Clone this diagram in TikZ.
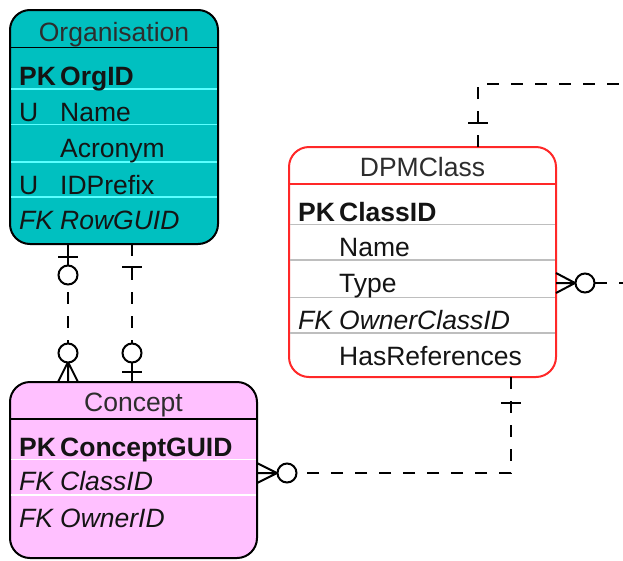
\documentclass[tikz,border=0pt]{standalone}
\usepackage{fontspec}
\setmainfont{Liberation Sans}
\definecolor{orgfill}{RGB}{0,192,192}
\definecolor{orgsep}{RGB}{90,255,255}
\definecolor{conceptfill}{RGB}{255,192,255}
\definecolor{classedge}{RGB}{255,40,40}
\definecolor{classsep}{RGB}{190,190,190}
\definecolor{ink}{RGB}{20,20,20}
\definecolor{titleink}{RGB}{45,45,45}
\begin{document}
\begin{tikzpicture}[x=1pt,y=-1pt,
  entity/.style={rectangle, rounded corners=20pt, line width=2pt, inner sep=0pt, outer sep=0pt, anchor=north west},
  title/.style={font=\fontsize{26.5}{30}\selectfont, text=titleink, anchor=base, inner sep=0pt},
  attr/.style={font=\fontsize{26.5}{30}\selectfont, text=ink, anchor=base west, inner sep=0pt},
  keyattr/.style={attr, font=\fontsize{26.5}{30}\selectfont\bfseries},
  fkattr/.style={attr, font=\fontsize{26.5}{30}\selectfont\itshape},
  divider/.style={line width=1.5pt, shorten <=1pt, shorten >=1pt},
  rel/.style={line width=2pt, dash pattern=on 12pt off 12pt},
  notation/.style={line width=2pt},
  ring/.style={notation, fill=white}
]
\path[use as bounding box, fill=white] (0,0) rectangle (623,560);

% ---------- Organisation ----------
\node[entity, draw=black, fill=orgfill, minimum width=208pt, minimum height=234pt] (org) at (10,10) {};
\draw[divider, black] (org.west |- 0,47.5) -- (org.east |- 0,47.5);
\foreach \y in {89,124.5,162,197}
  \draw[divider, orgsep] (org.west |- 0,\y) -- (org.east |- 0,\y);
\node[title] (org-title) at (114,41) {Organisation};
\node[keyattr] (org-pk) at (19,85.5) {PK};
\node[keyattr] (org-id) at (60,85.5) {OrgID};
\node[attr] (org-u1) at (19,121.5) {U};
\node[attr] (org-name) at (60,121.5) {Name};
\node[attr] (org-acr) at (60,157.5) {Acronym};
\node[attr] (org-u2) at (19,194) {U};
\node[attr] (org-prefix) at (60,194) {IDPrefix};
\node[fkattr] (org-fk) at (19,229.5) {FK};
\node[fkattr] (org-guid) at (60,229.5) {RowGUID};

% ---------- Concept ----------
\node[entity, draw=black, fill=conceptfill, minimum width=247pt, minimum height=176pt] (concept) at (10,382) {};
\draw[divider, black] (concept.west |- 0,419) -- (concept.east |- 0,419);
\foreach \y in {459.5,495}
  \draw[divider, white] (concept.west |- 0,\y) -- (concept.east |- 0,\y);
\node[title] (concept-title) at (133.5,411.5) {Concept};
\node[keyattr] (concept-pk) at (19,456) {PK};
\node[keyattr] (concept-guid) at (60,456) {ConceptGUID};
\node[fkattr] (concept-fk1) at (19,490) {FK};
\node[fkattr] (concept-class) at (60,490) {ClassID};
\node[fkattr] (concept-fk2) at (19,527) {FK};
\node[fkattr] (concept-owner) at (60,527) {OwnerID};

% ---------- DPMClass ----------
\node[entity, draw=classedge, fill=white, minimum width=267pt, minimum height=230pt] (dpm) at (289,147) {};
\draw[divider, classedge] (dpm.west |- 0,184) -- (dpm.east |- 0,184);
\foreach \y in {224.5,260,297.5,333}
  \draw[divider, classsep] (dpm.west |- 0,\y) -- (dpm.east |- 0,\y);
\node[title] (dpm-title) at (422.5,176.5) {DPMClass};
\node[keyattr] (dpm-pk) at (298,221.5) {PK};
\node[keyattr] (dpm-id) at (339,221.5) {ClassID};
\node[attr] (dpm-name) at (339,256.5) {Name};
\node[attr] (dpm-type) at (339,292.5) {Type};
\node[fkattr] (dpm-fk) at (298,329.5) {FK};
\node[fkattr] (dpm-owner) at (339,329.5) {OwnerClassID};
\node[attr] (dpm-refs) at (339,365.5) {HasReferences};

% ---------- Organisation (0..1) to Concept (0..n) ----------
\draw[rel] (org.south -| 68,0) -- (concept.north -| 68,0);
\draw[notation] (org.south -| 68,0) -- (68,266);
\draw[notation] (58,257) -- (78,257);
\draw[ring] (68,275) circle[radius=9.5];
\draw[notation] (68,362) -- (58,382) (68,362) -- (68,382) (68,362) -- (78,382);
\draw[ring] (68,353) circle[radius=9.5];

% ---------- Organisation (1) to Concept (0..1) ----------
\draw[rel] (org.south -| 132,0) -- (concept.north -| 132,0);
\draw[notation] (122,267) -- (142,267);
\draw[notation] (132,362) -- (concept.north -| 132,0);
\draw[notation] (122,372) -- (142,372);
\draw[ring] (132,353) circle[radius=9.5];

% ---------- DPMClass (1) to Concept (0..n) ----------
\draw[rel] (dpm.south -| 511,0) -- (511,473) -- (concept.east |- 0,473);
\draw[notation] (501,403) -- (521,403);
\draw[notation] (277,473) -- (257,463) (277,473) -- (257,473) (277,473) -- (257,483);
\draw[ring] (287,473) circle[radius=9.5];

% ---------- DPMClass owner (self reference, leaves the sheet) ----------
\coordinate (owner-out-top) at (640,84);
\coordinate (owner-out-side) at (640,283);
\draw[rel] (dpm.north -| 478,0) -- (478,84) -- (owner-out-top);
\draw[notation] (468,123) -- (488,123);
\draw[rel] (595,283) -- (owner-out-side);
\draw[notation] (575,283) -- (dpm.east |- 0,273) (575,283) -- (dpm.east |- 0,283) (575,283) -- (dpm.east |- 0,293);
\draw[ring] (585,283) circle[radius=9.5];
\end{tikzpicture}
\end{document}
